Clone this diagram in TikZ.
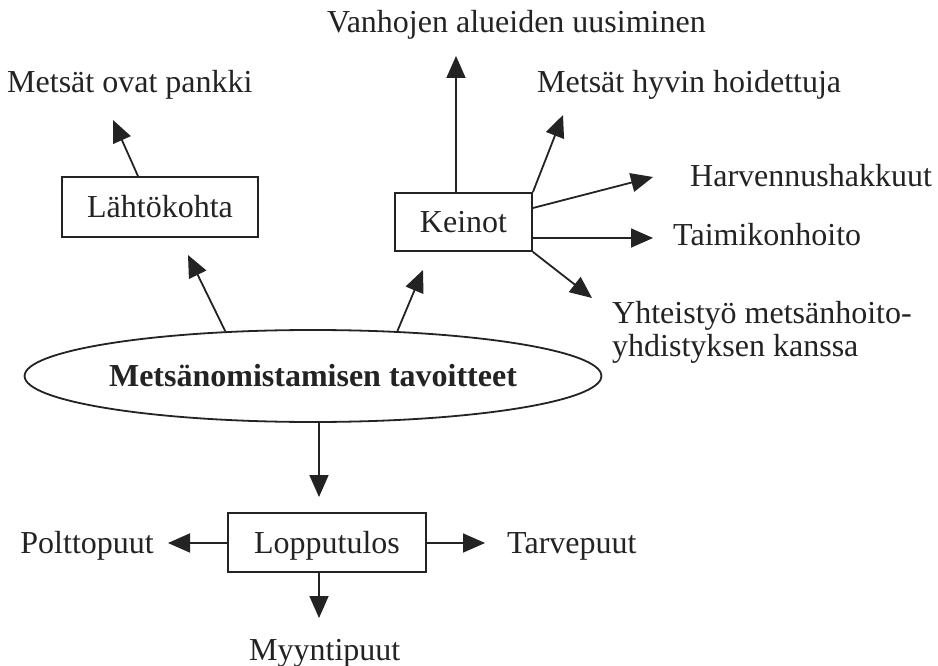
\documentclass[tikz,border=0pt]{standalone}
\usepackage{fontspec}
\setmainfont{Liberation Serif}
\usetikzlibrary{arrows.meta,shapes.geometric}
\definecolor{ink}{RGB}{35,35,35}
\begin{document}
\begin{tikzpicture}[x=1pt,y=-1pt,
  every node/.style={font=\fontsize{32}{38}\selectfont, text=ink},
  box/.style={draw=ink, line width=1.8pt, inner sep=0pt, rectangle},
  lbl/.style={inner sep=0pt},
  arr/.style={draw=ink, line width=1.8pt, -{Triangle[length=22pt,width=19pt]}}]
\useasboundingbox (0,0) rectangle (938,666);
\fill[white] (0,0) rectangle (938,666);

\node[ellipse, draw=ink, line width=1.8pt, minimum width=500pt, minimum height=92pt, inner sep=0pt,
      font=\fontsize{32}{38}\selectfont\bfseries] (ell) at (313,376) {Metsänomistamisen tavoitteet};
\node[box, minimum width=196pt, minimum height=60pt] (lahto) at (160,207) {Lähtökohta};
\node[box, minimum width=137pt, minimum height=58pt] (kein) at (463.5,222) {Keinot};
\node[box, minimum width=198pt, minimum height=59pt, text depth=0pt] (lop) at (327,542.5) {Lopputulos};

\node[lbl, anchor=base west] (pankki) at (7,93) {Metsät ovat pankki};
\node[lbl, anchor=base west] (vanh) at (327,33) {Vanhojen alueiden uusiminen};
\node[lbl, anchor=base west] (hoid) at (537,93) {Metsät hyvin hoidettuja};
\node[lbl, anchor=base west] (harv) at (690,186) {Harvennushakkuut};
\node[lbl, anchor=base west] (taim) at (673,245) {Taimikonhoito};
\node[lbl, anchor=base west] (yht1) at (612,323) {Yhteistyö metsänhoito-};
\node[lbl, anchor=base west] (yht2) at (612,356) {yhdistyksen kanssa};
\node[lbl, anchor=base east] (polt) at (154,553) {Polttopuut};
\node[lbl, anchor=base west] (tarv) at (507,553) {Tarvepuut};
\node[lbl, anchor=base west] (myy) at (249,660) {Myyntipuut};

\coordinate (tPankki) at (113,120);
\coordinate (tLahto) at (188,255);
\coordinate (tKein) at (423,270);
\coordinate (tVanh) at (456,56);
\coordinate (tHoid) at (563,115);
\coordinate (tHarv) at (653,177);
\coordinate (tTaim) at (653,238);
\coordinate (tYht) at (592,298);
\coordinate (tLop) at (319,497);
\coordinate (tPolt) at (168,543);
\coordinate (tTarv) at (485,543);
\coordinate (tMyy) at (319,618);

\draw[arr] ([xshift=-22pt]lahto.north) -- (tPankki);
\draw[arr] (ell.153) -- (tLahto);
\draw[arr] (ell.28) -- (tKein);
\draw[arr] ([xshift=-7.5pt]kein.north) -- (tVanh);
\draw[arr] (kein.north east) -- (tHoid);
\draw[arr] ([yshift=14pt]kein.east) -- (tHarv);
\draw[arr] ([yshift=-16pt]kein.east) -- (tTaim);
\draw[arr] (kein.south east) -- (tYht);
\draw[arr] (ell.south -| tLop) -- (tLop);
\draw[arr] (lop.west |- tPolt) -- (tPolt);
\draw[arr] (lop.east |- tTarv) -- (tTarv);
\draw[arr] (lop.south -| tMyy) -- (tMyy);
\end{tikzpicture}
\end{document}
